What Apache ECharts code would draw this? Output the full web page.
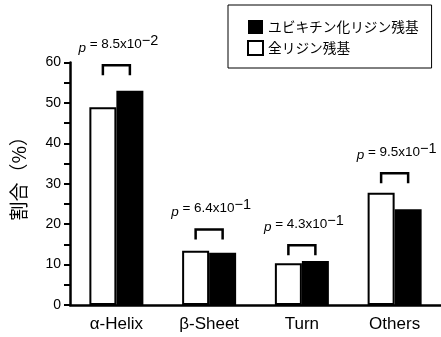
<!DOCTYPE html>
<html><head><meta charset="utf-8">
<script src="https://cdn.jsdelivr.net/npm/echarts@6/dist/echarts.min.js"></script>
<style>html,body{margin:0;padding:0;background:#fff}#c{width:441px;height:337px}</style>
</head><body><div id="c"></div>
<script>
const categories = ['α-Helix', 'β-Sheet', 'Turn', 'Others'];
const allLysine = [48.9, 13.4, 10.3, 27.8];
const ubLysine = [53.0, 12.9, 10.9, 23.7];
const bracketTop = [59.3, 18.7, 14.8, 32.6];
const pMantissa = ['8.5', '6.4', '4.3', '9.5'];
const pExponent = ['−2', '−1', '−1', '−1'];
const seriesNames = ['全リジン残基', 'ユビキチン化リジン残基'];
const yTicks = [0, 10, 20, 30, 40, 50, 60];

const FONT = '"Liberation Sans", Arial, "Noto Sans CJK JP", sans-serif';
const chart = echarts.init(document.getElementById('c'), null, {renderer: 'canvas'});

const BW = 27;
chart.setOption({
  animation: false,
  textStyle: {fontFamily: FONT, color: '#000'},
  grid: {left: 70, top: 62.5, width: 372, height: 242.5, containLabel: false},
  legend: {
    data: [seriesNames[1], seriesNames[0]],
    orient: 'vertical', left: 228, top: 5,
    padding: [15, 13, 12, 19],
    itemWidth: 15, itemHeight: 14, itemGap: 6,
    borderColor: '#000', borderWidth: 1,
    textStyle: {fontFamily: '"Noto Sans CJK JP", sans-serif', fontSize: 13.7, color: '#000'},
    icon: 'rect'
  },
  xAxis: {
    type: 'category', data: categories,
    axisLine: {lineStyle: {color: '#000', width: 2.5}},
    axisTick: {length: 5, lineStyle: {width: 2, color: '#000'}},
    axisLabel: {fontSize: 17, color: '#000', margin: 11, fontFamily: FONT}
  },
  yAxis: {
    type: 'value', min: 0, max: 60, interval: 5,
    name: '割合（%）', nameLocation: 'middle', nameRotate: 90, nameGap: 42,
    nameTextStyle: {fontSize: 19, fontFamily: '"Noto Sans CJK JP", sans-serif', color: '#000', padding: [0, 0, 0, 20]},
    axisLine: {show: true, lineStyle: {color: '#000', width: 2.5}},
    axisTick: {show: true, length: 6, lineStyle: {width: 2, color: '#000'}},
    splitLine: {show: false},
    axisLabel: {fontSize: 14, color: '#000', margin: 9, fontFamily: FONT,
      formatter: v => yTicks.includes(v) ? String(v) : ''}
  },
  series: [
    {name: seriesNames[0], type: 'bar', data: allLysine, barWidth: BW, barGap: '0%',
      itemStyle: {color: '#fff', borderColor: '#000', borderWidth: 2}},
    {name: seriesNames[1], type: 'bar', data: ubLysine, barWidth: BW, barGap: '0%',
      itemStyle: {color: '#000', borderColor: '#000', borderWidth: 0}},
    {type: 'custom', silent: true, clip: false, z: 5,
      data: bracketTop.map((v, i) => [i, v]),
      renderItem: function (params, api) {
        const i = api.value(0);
        const p = api.coord([i, api.value(1)]);
        const x1 = p[0] - BW / 2, x2 = p[0] + BW / 2, y = p[1];
        return {type: 'group', children: [
          {type: 'polyline', shape: {points: [[x1, y + 10], [x1, y], [x2, y], [x2, y + 10]]},
            style: {stroke: '#000', lineWidth: 2.5, fill: null}},
          {type: 'text', x: p[0] + 2, y: y - 21,
            style: {
              text: '{i|p} = ' + pMantissa[i] + 'x10{s|' + pExponent[i] + '}',
              align: 'center', verticalAlign: 'middle',
              fontFamily: FONT, fontSize: 13.5, fill: '#000',
              rich: {
                i: {fontStyle: 'italic', fontFamily: FONT, fontSize: 13.5, verticalAlign: 'bottom'},
                s: {fontFamily: FONT, fontSize: 14.5, padding: [0, 0, 6, 0], verticalAlign: 'bottom'}
              }
            }}
        ]};
      }
    }
  ]
});
</script></body></html>
